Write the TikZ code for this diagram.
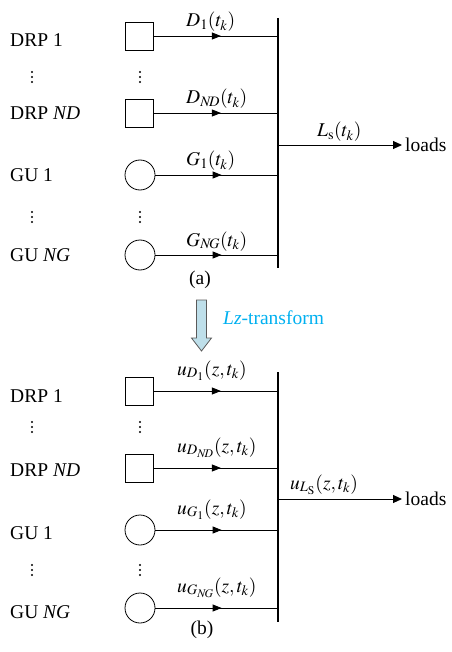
\documentclass[tikz,border=0pt]{standalone}
\usepackage{mathptmx}
\usepackage{fontspec}
\setmainfont{Liberation Serif}
\usetikzlibrary{arrows.meta,decorations.markings,positioning}
\definecolor{lzcyan}{HTML}{00B0F0}
\definecolor{lzfill}{HTML}{BEDFEA}
\definecolor{lzedge}{HTML}{5A5A5A}
\tikzset{
  drp/.style={rectangle,draw,line width=0.8pt,minimum size=28pt,inner sep=0pt},
  gu/.style={circle,draw,line width=0.8pt,minimum size=30pt,inner sep=0pt},
  unit/.style={anchor=west,inner sep=0pt},
  sig/.style={anchor=base west,inner sep=0pt},
  feed/.style={line width=0.9pt,postaction={decorate},
               decoration={markings,mark=at position 0.54 with {\arrow{Triangle[length=9pt,width=7pt]}}}},
  bus/.style={line width=2.4pt},
  tolds/.style={line width=0.9pt,-{Triangle[length=9pt,width=8pt]}},
  ldtext/.style={anchor=west,inner sep=3pt},
}
\begin{document}
\begin{tikzpicture}[x=1pt,y=-1pt,font=\fontsize{19.5}{23}\selectfont]
  \useasboundingbox (0,0) rectangle (451,652);
  % vertical ellipses between the rows
  \foreach \cx in {32,140}
    \foreach \cy in {77,217,427,570}
      \foreach \dy in {-5,0,5}
        \fill (\cx,\cy+\dy) circle (1.1);
  % (a) discrete model
  \node[unit] (drpA1) at (10,40) {DRP 1};
  \node[unit] (drpAn) at (10,113) {DRP \textit{ND}};
  \node[unit] (guA1) at (10,175) {GU 1};
  \node[unit] (guAn) at (10,255) {GU \textit{NG}};
  \node[drp] (sqA1) at (139.5,36) {};
  \node[drp] (sqAn) at (139.5,113) {};
  \node[gu] (ciA1) at (140,175) {};
  \node[gu] (ciAn) at (140,255) {};
  \coordinate (busAtop) at (278,18);
  \coordinate (busAbot) at (278,268);
  \draw[bus] (busAtop) -- (busAbot);
  \coordinate (busA1) at (278,36);
  \coordinate (busA2) at (278,113);
  \coordinate (busA3) at (278,175);
  \coordinate (busA4) at (278,255);
  \coordinate (busAL) at (278,145);
  \draw[feed] (sqA1) -- (busA1);
  \draw[feed] (sqAn) -- (busA2);
  \draw[feed] (ciA1) -- (busA3);
  \draw[feed] (ciAn) -- (busA4);
  \node[sig] (lbA1) at (186,27) {$D_1(t_k)$};
  \node[sig] (lbA2) at (186,104) {$D_{N\!D}(t_k)$};
  \node[sig] (lbA3) at (186,166) {$G_1(t_k)$};
  \node[sig] (lbA4) at (186,246) {$G_{N\!G}(t_k)$};
  \node[ldtext] (ldA) at (402,145) {loads};
  \draw[tolds] (busAL) -- (ldA);
  \node[sig] (lbAL) at (317,137) {$L_\mathrm{s}(t_k)$};
  \node (capA) at (200,280) {(a)};
  % Lz-transform
  \draw[lzedge,fill=lzfill,line width=0.8pt] (196.5,300) -- (206.5,300) -- (206.5,338)
    -- (211.5,338) -- (201.5,351) -- (191.5,338) -- (196.5,338) -- cycle;
  \node[unit,text=lzcyan] (lzt) at (223,318) {\textit{Lz}-transform};
  % (b) Lz-transform model
  \node[unit] (drpB1) at (10,396) {DRP 1};
  \node[unit] (drpBn) at (10,470) {DRP \textit{ND}};
  \node[unit] (guB1) at (10,533) {GU 1};
  \node[unit] (guBn) at (10,612) {GU \textit{NG}};
  \node[drp] (sqB1) at (139.5,391) {};
  \node[drp] (sqBn) at (139.5,468) {};
  \node[gu] (ciB1) at (140,530) {};
  \node[gu] (ciBn) at (140,608) {};
  \coordinate (busBtop) at (278,372);
  \coordinate (busBbot) at (278,622);
  \draw[bus] (busBtop) -- (busBbot);
  \coordinate (busB1) at (278,391);
  \coordinate (busB2) at (278,468);
  \coordinate (busB3) at (278,530);
  \coordinate (busB4) at (278,608);
  \coordinate (busBL) at (278,499);
  \draw[feed] (sqB1) -- (busB1);
  \draw[feed] (sqBn) -- (busB2);
  \draw[feed] (ciB1) -- (busB3);
  \draw[feed] (ciBn) -- (busB4);
  \node[sig] (lbB1) at (177,375) {$u_{D_1}(z,t_k)$};
  \node[sig] (lbB2) at (177,452) {$u_{D_{N\!D}}(z,t_k)$};
  \node[sig] (lbB3) at (177,514) {$u_{G_1}(z,t_k)$};
  \node[sig] (lbB4) at (177,592) {$u_{G_{N\!G}}(z,t_k)$};
  \node[ldtext] (ldB) at (402,499) {loads};
  \draw[tolds] (busBL) -- (ldB);
  \node[sig] (lbBL) at (290,489) {$u_{L_\mathrm{S}}(z,t_k)$};
  \node (capB) at (202,630) {(b)};
\end{tikzpicture}
\end{document}
